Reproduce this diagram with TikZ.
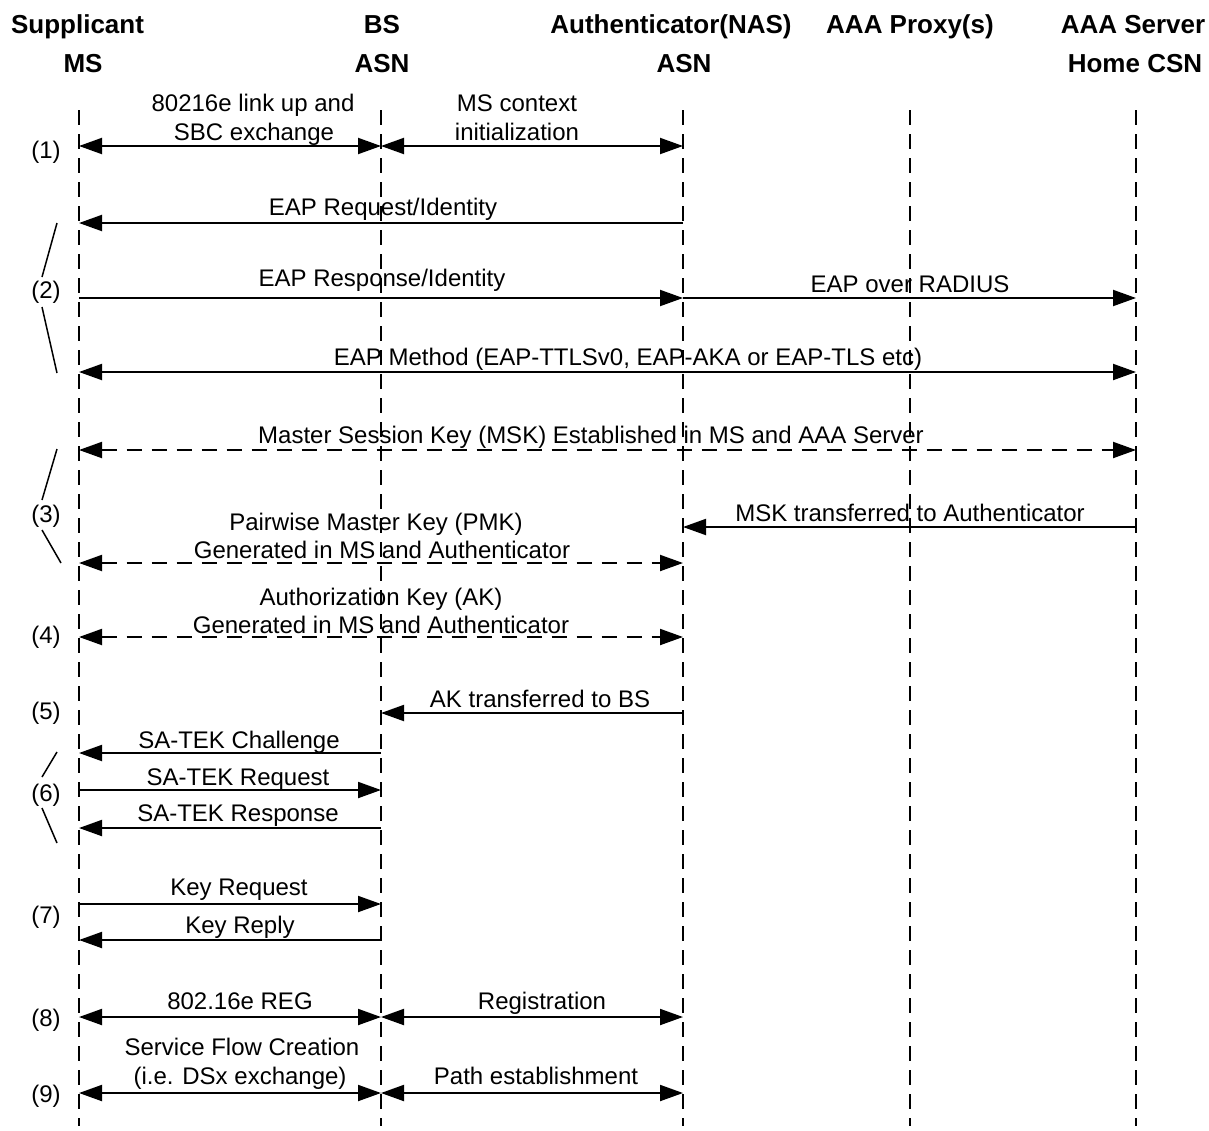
\documentclass[tikz,border=0pt]{standalone}
\usepackage{fontspec}
\setmainfont{Liberation Sans}
\usetikzlibrary{arrows.meta}
\begin{document}
\begin{tikzpicture}[x=1pt,y=-1pt,
  lifeline/.style={line width=1.5pt,dash pattern=on 15pt off 9pt},
  msg/.style={line width=2pt,-{Triangle[length=23pt,width=16pt]}},
  bimsg/.style={line width=2pt,{Triangle[length=23pt,width=16pt]}-{Triangle[length=23pt,width=16pt]}},
  dmsg/.style={bimsg,dash pattern=on 15pt off 10pt},
  lbl/.style={anchor=base,inner sep=0pt,font=\fontsize{24pt}{28pt}\selectfont},
  hdr/.style={anchor=base,inner sep=0pt,font=\fontsize{26pt}{30pt}\selectfont\bfseries},
  step/.style={},
  stepnum/.style={anchor=center,inner sep=0pt,font=\fontsize{24pt}{28pt}\selectfont},
  brk/.style={line width=1.5pt}]
\useasboundingbox (0,0) rectangle (1209,1130);
% headers
\node[hdr] (h1) at (77.5,33) {Supplicant};
\node[hdr] (h1b) at (83,72) {MS};
\node[hdr] (h2) at (382,33) {BS};
\node[hdr] (h2b) at (382,72) {ASN};
\node[hdr] (h3) at (671,33) {Authenticator(NAS)};
\node[hdr] (h3b) at (684,72) {ASN};
\node[hdr] (h4) at (910,33) {AAA Proxy(s)};
\node[hdr] (h5) at (1133,33) {AAA Server};
\node[hdr] (h5b) at (1135,72) {Home CSN};
% lifelines
\coordinate (ms) at (79,110);  \coordinate (msb) at (79,1126);
\coordinate (bs) at (381,110); \coordinate (bsb) at (381,1126);
\coordinate (au) at (683,110); \coordinate (aub) at (683,1126);
\coordinate (px) at (910,110); \coordinate (pxb) at (910,1126);
\coordinate (sv) at (1136,110);\coordinate (svb) at (1136,1126);
\draw[lifeline] (ms) -- (msb);
\draw[lifeline] (bs) -- (bsb);
\draw[lifeline] (au) -- (aub);
\draw[lifeline,line width=1.2pt] (px) -- (pxb);
\draw[lifeline,line width=1.2pt] (sv) -- (svb);
% (1)
\draw[bimsg] (ms |- 0,146) -- (bs |- 0,146);
\draw[bimsg] (bs |- 0,146) -- (au |- 0,146);
\node[lbl] (t1a) at (253,111.5) {80216e link up and};
\node[lbl] (t1b) at (254,140.5) {SBC exchange};
\node[lbl] (t1c) at (517,111.5) {MS context};
\node[lbl] (t1d) at (517,140.5) {initialization};
% (2)
\draw[msg] (au |- 0,223) -- (ms |- 0,223);
\node[lbl] (t2a) at (383,215.5) {EAP Request/Identity};
\draw[msg] (ms |- 0,298) -- (au |- 0,298);
\draw[msg] (au |- 0,298) -- (sv |- 0,298);
\node[lbl] (t2b) at (382,286.5) {EAP Response/Identity};
\node[lbl] (t2c) at (910,292.5) {EAP over RADIUS};
\draw[bimsg] (ms |- 0,372) -- (sv |- 0,372);
\node[lbl] (t2d) at (628,365.5) {EAP Method (EAP-TTLSv0, EAP-AKA or EAP-TLS etc)};
% (3)
\draw[dmsg] (ms |- 0,450) -- (sv |- 0,450);
\node[lbl] (t3a) at (591,443.5) {Master Session Key (MSK) Established in MS and AAA Server};
\draw[msg] (sv |- 0,527) -- (au |- 0,527);
\node[lbl] (t3b) at (910,521.5) {MSK transferred to Authenticator};
\draw[dmsg] (ms |- 0,563) -- (au |- 0,563);
\node[lbl] (t3c) at (376,530.5) {Pairwise Master Key (PMK)};
\node[lbl] (t3d) at (382,558.5) {Generated in MS and Authenticator};
% (4)
\draw[dmsg] (ms |- 0,637) -- (au |- 0,637);
\node[lbl] (t4a) at (381,605.5) {Authorization Key (AK)};
\node[lbl] (t4b) at (381,633.5) {Generated in MS and Authenticator};
% (5)
\draw[msg] (au |- 0,713) -- (bs |- 0,713);
\node[lbl] (t5a) at (540,707.5) {AK transferred to BS};
% (6)
\draw[msg] (bs |- 0,753) -- (ms |- 0,753);
\node[lbl] (t6a) at (239,748.5) {SA-TEK Challenge};
\draw[msg] (ms |- 0,790) -- (bs |- 0,790);
\node[lbl] (t6b) at (238,785.5) {SA-TEK Request};
\draw[msg] (bs |- 0,828) -- (ms |- 0,828);
\node[lbl] (t6c) at (238,821.5) {SA-TEK Response};
% (7)
\draw[msg] (ms |- 0,904) -- (bs |- 0,904);
\node[lbl] (t7a) at (239,895.5) {Key Request};
\draw[msg] (bs |- 0,940) -- (ms |- 0,940);
\node[lbl] (t7b) at (240,933.5) {Key Reply};
% (8)
\draw[bimsg] (ms |- 0,1017) -- (bs |- 0,1017);
\draw[bimsg] (bs |- 0,1017) -- (au |- 0,1017);
\node[lbl] (t8a) at (240,1009.5) {802.16e REG};
\node[lbl] (t8b) at (542,1009.5) {Registration};
% (9)
\draw[bimsg] (ms |- 0,1093) -- (bs |- 0,1093);
\draw[bimsg] (bs |- 0,1093) -- (au |- 0,1093);
\node[lbl] (t9a) at (242,1055.5) {Service Flow Creation};
\node[lbl] (t9b) at (240,1084.5) {(i.e. DSx exchange)};
\node[lbl] (t9c) at (536,1084.5) {Path establishment};
% step numbers
\node[stepnum] (s1) at (46,152) {(1)};
\node[stepnum] (s2) at (46,292) {(2)};
\node[stepnum] (s3) at (46,516) {(3)};
\node[stepnum] (s4) at (46,637) {(4)};
\node[stepnum] (s5) at (46,713) {(5)};
\node[stepnum] (s6) at (46,795) {(6)};
\node[stepnum] (s7) at (46,917) {(7)};
\node[stepnum] (s8) at (46,1020) {(8)};
\node[stepnum] (s9) at (46,1096) {(9)};
% brackets
\draw[brk] (57,223) -- (42,277);
\draw[brk] (42,307) -- (57,373);
\draw[brk] (57,449) -- (42,500);
\draw[brk] (42,530) -- (61,563);
\draw[brk] (57,752) -- (42,777);
\draw[brk] (42,808) -- (57,843);
\end{tikzpicture}
\end{document}
